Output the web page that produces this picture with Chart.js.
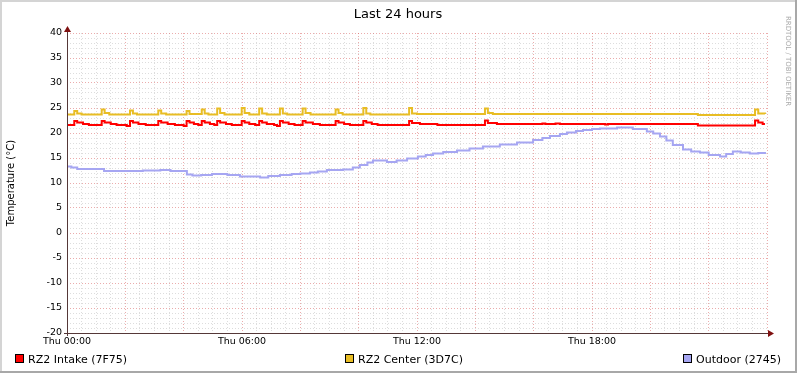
<!DOCTYPE html>
<html>
<head>
<meta charset="utf-8">
<script src="https://cdn.jsdelivr.net/npm/chart.js@4/dist/chart.umd.min.js"></script>
<style>
  html, body { margin: 0; padding: 0; background: #fff; }
  #wrap { width: 797px; height: 373px; }
</style>
</head>
<body>
<div id="wrap"><canvas id="myChart" width="797" height="373"></canvas></div>
<script>
// time in hours since Thu 00:00
const tickHours = [0, 6, 12, 18];
const tickLabels = ['Thu 00:00', 'Thu 06:00', 'Thu 12:00', 'Thu 18:00'];

const intakeTimes = [0.00, 0.25, 0.35, 0.55, 0.75, 1.19, 1.29, 1.50, 1.70, 2.05, 2.16, 2.26, 2.45, 2.70,
  3.13, 3.23, 3.45, 3.70, 4.00, 4.10, 4.20, 4.35, 4.50, 4.62, 4.72, 4.90, 5.05, 5.15, 5.25, 5.45, 5.65,
  5.99, 6.09, 6.25, 6.45, 6.59, 6.69, 6.85, 7.10, 7.20, 7.30, 7.40, 7.60, 7.80, 8.08, 8.18, 8.43, 8.67,
  9.21, 9.31, 9.50, 9.70, 10.16, 10.26, 10.45, 10.65, 11.73, 11.83, 12.10, 12.70, 14.33, 14.43, 14.74,
  16.30, 16.40, 16.75, 16.90, 18.45, 18.55, 21.63, 23.59, 23.70, 23.85, 23.93];
const intakeValues = [21.6, 22.4, 22.1, 21.8, 21.6, 22.4, 22.1, 21.8, 21.6, 21.4, 22.4, 22.1, 21.8, 21.6,
  22.4, 22.1, 21.8, 21.6, 21.4, 22.4, 22.1, 21.8, 21.6, 22.4, 22.1, 21.8, 21.6, 22.4, 22.1, 21.8, 21.6,
  22.4, 22.1, 21.8, 21.6, 22.4, 22.1, 21.8, 21.6, 21.4, 22.4, 22.1, 21.8, 21.6, 22.4, 22.1, 21.8, 21.6,
  22.4, 22.1, 21.8, 21.6, 22.4, 22.1, 21.8, 21.6, 22.4, 22.0, 21.8, 21.6, 22.5, 22.0, 21.8,
  21.9, 21.8, 21.9, 21.8, 21.7, 21.8, 21.5, 22.5, 22.1, 21.8, 21.8];

const centerTimes = [0.00, 0.25, 0.35, 0.50, 1.19, 1.29, 1.45, 2.16, 2.26, 2.40, 3.13, 3.23, 3.40,
  4.10, 4.20, 4.62, 4.72, 4.85, 5.15, 5.25, 5.40, 5.99, 6.09, 6.25, 6.59, 6.69, 6.85, 7.30, 7.40, 7.55,
  8.08, 8.18, 8.35, 9.21, 9.31, 9.45, 10.16, 10.26, 10.40, 11.73, 11.83, 12.00, 14.33, 14.43, 14.60,
  21.63, 23.59, 23.70, 23.93];
const centerValues = [23.7, 24.4, 23.9, 23.7, 24.7, 24.0, 23.7, 24.5, 23.9, 23.7, 24.5, 23.9, 23.7,
  24.4, 23.8, 24.7, 23.9, 23.7, 24.9, 24.0, 23.7, 25.0, 24.0, 23.7, 24.9, 23.9, 23.7, 24.9, 23.9, 23.7,
  24.9, 24.0, 23.7, 24.7, 24.0, 23.7, 25.0, 23.9, 23.7, 25.0, 23.9, 23.8, 24.9, 24.0, 23.8,
  23.6, 24.7, 23.9, 23.8];

const outdoorTimes = [0.00, 0.15, 0.35, 1.27, 2.60, 3.20, 3.55, 4.11, 4.30, 4.60, 4.97, 5.50, 5.93,
  6.30, 6.62, 6.90, 7.30, 7.70, 8.00, 8.33, 8.60, 8.91, 9.46, 9.80, 10.04, 10.30, 10.49, 10.97, 11.30,
  11.66, 12.03, 12.30, 12.55, 12.90, 13.37, 13.80, 14.26, 14.84, 15.43, 15.98, 16.30, 16.56, 16.90,
  17.14, 17.45, 17.69, 18.00, 18.27, 18.86, 19.40, 19.88, 20.10, 20.33, 20.55, 20.77, 21.12, 21.40,
  21.70, 22.00, 22.39, 22.60, 22.83, 23.10, 23.41, 23.70, 23.93];
const outdoorValues = [13.3, 13.1, 12.8, 12.4, 12.5, 12.6, 12.4, 11.7, 11.5, 11.6, 11.8, 11.6, 11.3,
  11.3, 11.1, 11.4, 11.6, 11.8, 11.9, 12.1, 12.3, 12.6, 12.7, 13.1, 13.6, 14.1, 14.5, 14.2, 14.5,
  14.9, 15.3, 15.6, 15.9, 16.2, 16.5, 16.9, 17.3, 17.7, 18.1, 18.6, 19.0, 19.4, 19.8,
  20.1, 20.4, 20.6, 20.8, 20.9, 21.1, 20.8, 20.3, 19.9, 19.3, 18.5, 17.6, 16.7, 16.3,
  16.1, 15.6, 15.3, 15.8, 16.3, 16.1, 15.9, 16.0, 15.8];

const seriesNames = ['RZ2 Intake (7F75)', 'RZ2 Center (3D7C)', 'Outdoor (2745)'];
const seriesColors = ['#ff0000', '#e8bd24', '#a6a6f2'];

const FONT = 'DejaVu Sans';

function toPoints(times, values) {
  return times.map((t, i) => ({ x: t, y: values[i] }));
}

// rrdtool style frame, title, legend, axes with arrows
const rrdDecor = {
  id: 'rrdDecor',
  beforeDraw(chart) {
    const c = chart.ctx;
    c.save();
    c.fillStyle = '#ffffff';
    c.fillRect(0, 0, chart.width, chart.height);
    c.restore();
  },
  afterDraw(chart) {
    const c = chart.ctx;
    const a = chart.chartArea;
    c.save();

    // axes
    c.strokeStyle = '#553838';
    c.lineWidth = 1;
    c.beginPath();
    c.moveTo(a.left - 3, a.bottom + 0.5);
    c.lineTo(a.right + 3, a.bottom + 0.5);
    c.moveTo(a.left + 0.5, a.bottom + 3);
    c.lineTo(a.left + 0.5, a.top - 3);
    c.stroke();
    // arrows
    c.fillStyle = '#7f1010';
    c.beginPath();
    c.moveTo(a.right + 7, a.bottom + 0.5);
    c.lineTo(a.right + 1, a.bottom - 3);
    c.lineTo(a.right + 1, a.bottom + 4);
    c.closePath();
    c.fill();
    c.beginPath();
    c.moveTo(a.left + 0.5, a.top - 7);
    c.lineTo(a.left - 3, a.top - 1);
    c.lineTo(a.left + 4, a.top - 1);
    c.closePath();
    c.fill();

    // title
    c.fillStyle = '#000';
    c.font = '13px "' + FONT + '"';
    c.textAlign = 'center';
    c.textBaseline = 'alphabetic';
    c.fillText('Last 24 hours', 398, 18);

    // y axis label
    c.save();
    c.translate(11, (a.top + a.bottom) / 2);
    c.rotate(-Math.PI / 2);
    c.font = '10px "' + FONT + '"';
    c.textBaseline = 'middle';
    c.fillText('Temperature (°C)', 0, 0);
    c.restore();

    // watermark
    c.save();
    c.translate(788, 61);
    c.rotate(Math.PI / 2);
    c.font = '7px "' + FONT + '"';
    c.fillStyle = '#aaaaaa';
    c.textAlign = 'center';
    c.textBaseline = 'middle';
    c.fillText('RRDTOOL / TOBI OETIKER', 0, 0);
    c.restore();

    // legend
    const boxX = [15, 345, 683];
    c.font = '11px "' + FONT + '"';
    c.textAlign = 'left';
    c.textBaseline = 'alphabetic';
    seriesNames.forEach((name, i) => {
      c.fillStyle = seriesColors[i];
      c.fillRect(boxX[i], 354, 9, 9);
      c.strokeStyle = '#000';
      c.strokeRect(boxX[i] + 0.5, 354.5, 8, 8);
      c.fillStyle = '#000';
      c.fillText(name, boxX[i] + 13, 363);
    });

    // frame
    c.fillStyle = '#d4d4d4';
    c.fillRect(0, 0, chart.width, 2);
    c.fillRect(0, 0, 2, chart.height);
    c.fillStyle = '#a8a8a8';
    c.fillRect(0, chart.height - 2, chart.width, 2);
    c.fillRect(chart.width - 2, 0, 2, chart.height);
    c.restore();
  }
};

const minorGrid = 'rgba(150, 150, 150, 0.32)';
const majorGrid = 'rgba(215, 90, 90, 0.5)';

const ctx = document.getElementById('myChart').getContext('2d');
new Chart(ctx, {
  type: 'line',
  data: {
    datasets: [
      { label: seriesNames[0], data: toPoints(intakeTimes, intakeValues), borderColor: seriesColors[0] },
      { label: seriesNames[1], data: toPoints(centerTimes, centerValues), borderColor: seriesColors[1] },
      { label: seriesNames[2], data: toPoints(outdoorTimes, outdoorValues), borderColor: seriesColors[2] }
    ]
  },
  options: {
    responsive: false,
    animation: false,
    devicePixelRatio: 1,
    layout: { padding: { left: 0, top: 33, right: 30, bottom: 0 } },
    elements: {
      line: { borderWidth: 2, stepped: true, tension: 0, fill: false },
      point: { radius: 0, hoverRadius: 0 }
    },
    plugins: {
      legend: { display: false },
      tooltip: { enabled: false }
    },
    scales: {
      x: {
        type: 'linear',
        min: 0,
        max: 24,
        afterFit(scale) { scale.height = 40; },
        ticks: {
          stepSize: 0.5,
          autoSkip: false,
          maxRotation: 0,
          padding: 3,
          color: '#000',
          font: { family: FONT, size: 9.5 },
          callback: (v) => {
            const i = tickHours.indexOf(v);
            return i >= 0 ? tickLabels[i] : '';
          }
        },
        grid: {
          drawTicks: false,
          lineWidth: 1,
          color: (c) => (c.tick && c.tick.value % 2 === 0 ? majorGrid : minorGrid)
        },
        border: { display: false, dash: [1, 2] }
      },
      y: {
        min: -20,
        max: 40,
        afterFit(scale) { scale.width = 67; },
        ticks: {
          stepSize: 1,
          autoSkip: false,
          padding: 5,
          color: '#000',
          font: { family: FONT, size: 9.5 },
          callback: (v) => (v % 5 === 0 ? String(v) : '')
        },
        grid: {
          drawTicks: false,
          lineWidth: 1,
          color: (c) => (c.tick && c.tick.value % 5 === 0 ? majorGrid : minorGrid)
        },
        border: { display: false, dash: [1, 2] }
      }
    }
  },
  plugins: [rrdDecor]
});
</script>
</body>
</html>
